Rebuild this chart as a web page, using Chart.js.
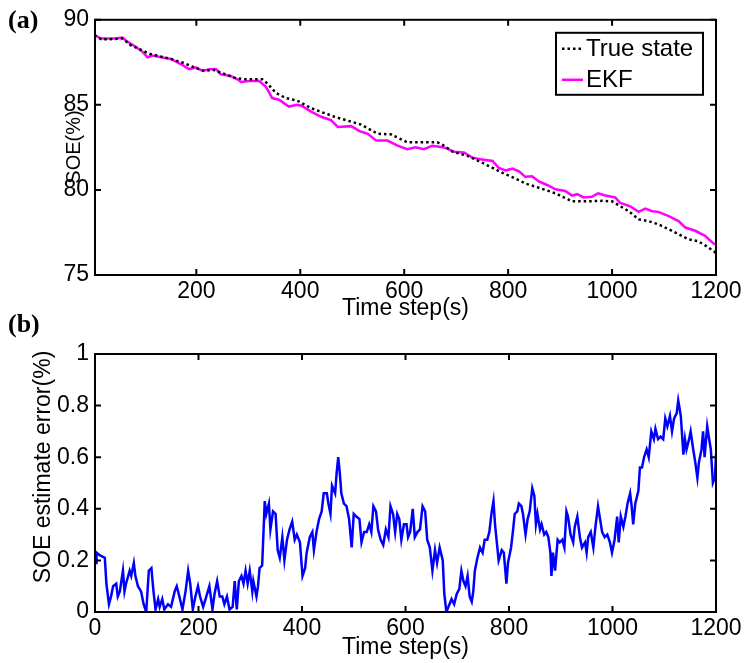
<!DOCTYPE html>
<html>
<head>
<meta charset="utf-8">
<script src="https://cdn.jsdelivr.net/npm/chart.js@4.4.1/dist/chart.umd.min.js"></script>
<style>
  body { margin: 0; background: #fff; }
  #wrap { position: relative; width: 748px; height: 663px; }
  #socChart { position: absolute; left: 0; top: 0; }
  #errChart { position: absolute; left: 0; top: 300px; }
</style>
</head>
<body>
<div id="wrap">
  <canvas id="socChart" width="748" height="330"></canvas>
  <canvas id="errChart" width="748" height="363"></canvas>
</div>
<script>
// (a) true state of energy
const trueTime = [4, 17, 30, 58, 74, 110, 151, 177, 196, 215, 234, 273, 292, 327, 337, 353, 372, 394, 421, 466, 517, 549,
  574, 606, 626, 664, 677, 693, 722, 750, 773, 792, 814, 833, 859, 891, 923, 949, 981, 1000, 1016, 1032, 1051,
  1070, 1089, 1109, 1128, 1147, 1166, 1185, 1200];
const trueSoe = [89.1, 88.85, 88.85, 88.9, 88.5, 88.0, 87.7, 87.45, 87.2, 87.0, 87.05, 86.6, 86.5, 86.5, 86.25, 85.7, 85.4, 85.25, 84.8, 84.3, 83.84, 83.3,
  83.27, 82.8, 82.8, 82.8, 82.6, 82.25, 82.0, 81.6, 81.25, 80.96, 80.67, 80.38, 80.13, 79.8, 79.33, 79.33, 79.36, 79.33, 79.04, 78.75, 78.27,
  78.17, 77.98, 77.69, 77.4, 77.1, 76.98, 76.63, 76.3];

// (a) EKF estimate
const ekfTime = [4, 17, 26, 42, 58, 68, 84, 97, 106, 116, 132, 151, 170, 186, 199, 212, 225, 238, 247, 266, 279, 286, 302, 321,
  334, 346, 359, 378, 394, 402, 421, 440, 459, 472, 498, 514, 530, 546, 568, 587, 606, 622, 638, 654, 677, 696, 715, 731,
  747, 770, 782, 795, 808, 821, 833, 846, 859, 875, 891, 910, 923, 933, 945, 961, 973, 987, 1006, 1016, 1035, 1051,
  1064, 1077, 1089, 1109, 1128, 1141, 1160, 1179, 1195, 1200];
const ekfSoe = [89.1, 88.9, 88.9, 88.9, 88.95, 88.7, 88.4, 88.1, 87.8, 87.9, 87.8, 87.7, 87.4, 87.1, 87.2, 87.0, 87.1, 87.1, 86.8, 86.7, 86.5, 86.35, 86.4, 86.4,
  86.06, 85.4, 85.3, 84.9, 85.0, 84.95, 84.6, 84.3, 84.1, 83.7, 83.75, 83.46, 83.3, 82.9, 82.9, 82.6, 82.4, 82.5, 82.4, 82.6, 82.5, 82.25, 82.2, 81.9,
  81.8, 81.7, 81.3, 81.15, 81.25, 81.1, 80.77, 80.8, 80.5, 80.29, 80.04, 79.94, 79.67, 79.75, 79.56, 79.6, 79.8, 79.67, 79.56, 79.23, 79.04, 78.71,
  78.9, 78.75, 78.71, 78.46, 78.17, 77.79, 77.6, 77.3, 76.86, 76.8];

// (b) estimate error
const errTime = [0, 2, 3, 9, 19, 22, 27, 31, 35, 41, 44, 48, 54, 57, 60, 67, 70, 75, 78, 83, 89, 94, 99, 104, 109, 113, 117, 122,
  125, 130, 134, 141, 147, 154, 158, 163, 169, 175, 180, 184, 189, 194, 199, 203, 209, 215, 221, 227, 231, 236, 241, 246,
  250, 255, 260, 266, 270, 274, 278, 283, 287, 291, 295, 299, 304, 306, 312, 315, 318, 323, 328, 331, 336, 339, 344, 349,
  353, 357, 362, 366, 371, 376, 381, 386, 390, 396, 401, 406, 409, 415, 420, 423, 428, 433, 438, 442, 448, 451, 455, 458,
  464, 467, 470, 473, 476, 481, 486, 491, 496, 500, 505, 511, 515, 520, 525, 530, 534, 538, 543, 547, 552, 557, 562, 567,
  571, 576, 580, 584, 588, 592, 597, 602, 605, 609, 614, 618, 623, 628, 633, 638, 642, 647, 652, 657, 661, 666, 672, 675,
  679, 685, 689, 694, 699, 704, 708, 712, 716, 720, 724, 728, 731, 734, 739, 744, 749, 753, 758, 762, 766, 770, 773, 776,
  780, 786, 790, 795, 798, 804, 808, 811, 816, 819, 824, 827, 832, 836, 840, 845, 849, 852, 855, 860, 863, 868, 872, 876,
  880, 882, 885, 889, 894, 898, 903, 907, 911, 914, 919, 924, 927, 932, 937, 941, 947, 950, 953, 958, 963, 967, 972, 976,
  980, 985, 990, 995, 999, 1004, 1009, 1012, 1016, 1021, 1025, 1029, 1034, 1037, 1040, 1044, 1050, 1053, 1057, 1061, 1066,
  1070, 1075, 1080, 1083, 1088, 1093, 1098, 1102, 1106, 1111, 1115, 1119, 1124, 1127, 1132, 1137, 1140, 1143, 1148, 1151,
  1156, 1160, 1164, 1167, 1172, 1175, 1178, 1183, 1186, 1190, 1194, 1198, 1200];
const errVal = [0.22, 0.19, 0.23, 0.22, 0.21, 0.11, 0.03, 0.06, 0.10, 0.11, 0.06, 0.08, 0.16, 0.08, 0.11, 0.16, 0.14, 0.19, 0.14, 0.10, 0.08, 0.03, 0, 0.16, 0.17, 0.08, 0.01, 0.05,
  0.02, 0.05, 0.01, 0.03, 0.02, 0.08, 0.10, 0.06, 0.01, 0.08, 0.16, 0.11, 0.01, 0.06, 0.10, 0.06, 0.02, 0.06, 0.10, 0.01, 0.07, 0.12, 0.06, 0.06,
  0.03, 0.06, 0.01, 0.02, 0.12, 0.01, 0.12, 0.14, 0.11, 0.16, 0.11, 0.16, 0.08, 0.12, 0.06, 0.10, 0.17, 0.18, 0.43, 0.38, 0.42, 0.32, 0.39, 0.38,
  0.24, 0.21, 0.29, 0.20, 0.28, 0.32, 0.35, 0.28, 0.30, 0.27, 0.14, 0.17, 0.23, 0.29, 0.31, 0.24, 0.31, 0.36, 0.39, 0.46, 0.46, 0.42, 0.38, 0.49,
  0.46, 0.54, 0.60, 0.54, 0.46, 0.42, 0.41, 0.36, 0.25, 0.38, 0.37, 0.36, 0.27, 0.31, 0.31, 0.34, 0.31, 0.41, 0.39, 0.32, 0.28, 0.26, 0.32, 0.29,
  0.41, 0.38, 0.31, 0.38, 0.36, 0.28, 0.34, 0.34, 0.29, 0.31, 0.40, 0.29, 0.31, 0.32, 0.41, 0.39, 0.28, 0.25, 0.16, 0.24, 0.19, 0.25, 0.20, 0.07,
  0.00, 0.03, 0.05, 0.03, 0.07, 0.09, 0.16, 0.12, 0.10, 0.14, 0.06, 0.04, 0.08, 0.16, 0.21, 0.25, 0.23, 0.28, 0.28, 0.31, 0.38, 0.43, 0.34, 0.28,
  0.20, 0.24, 0.23, 0.11, 0.19, 0.25, 0.32, 0.38, 0.39, 0.42, 0.41, 0.38, 0.30, 0.36, 0.39, 0.48, 0.45, 0.34, 0.38, 0.32, 0.34, 0.30, 0.31, 0.29,
  0.23, 0.14, 0.23, 0.16, 0.28, 0.27, 0.28, 0.25, 0.39, 0.37, 0.30, 0.27, 0.33, 0.37, 0.29, 0.25, 0.27, 0.23, 0.29, 0.31, 0.25, 0.33, 0.41, 0.36,
  0.31, 0.29, 0.30, 0.27, 0.23, 0.28, 0.37, 0.27, 0.37, 0.33, 0.37, 0.42, 0.46, 0.41, 0.34, 0.42, 0.47, 0.56, 0.56, 0.60, 0.63,
  0.60, 0.70, 0.67, 0.71, 0.67, 0.68, 0.67, 0.75, 0.72, 0.76, 0.70, 0.75, 0.77, 0.82, 0.76, 0.61, 0.67, 0.63, 0.67, 0.70,
  0.63, 0.58, 0.52, 0.58, 0.63, 0.70, 0.60, 0.72, 0.68, 0.63, 0.50, 0.52, 0.61];

const socTicks = [200, 400, 600, 800, 1000, 1200];
const errTicks = [0, 200, 400, 600, 800, 1000, 1200];

const FONT = 'Liberation Sans, Arial, Helvetica, sans-serif';

function zip(xs, ys) {
  return xs.map((x, i) => ({ x: x, y: ys[i] }));
}

// Matlab style box with inward ticks on all four sides
const matlabAxes = {
  id: 'matlabAxes',
  afterDatasetsDraw(chart) {
    const { ctx, chartArea: a, scales } = chart;
    const len = 6;
    ctx.save();
    ctx.strokeStyle = '#000';
    ctx.lineWidth = 2;
    ctx.beginPath();
    scales.x.ticks.forEach(t => {
      const px = scales.x.getPixelForValue(t.value);
      ctx.moveTo(px, a.bottom); ctx.lineTo(px, a.bottom - len);
      ctx.moveTo(px, a.top); ctx.lineTo(px, a.top + len);
    });
    scales.y.ticks.forEach(t => {
      const py = scales.y.getPixelForValue(t.value);
      ctx.moveTo(a.left, py); ctx.lineTo(a.left + len, py);
      ctx.moveTo(a.right, py); ctx.lineTo(a.right - len, py);
    });
    ctx.stroke();
    ctx.strokeRect(a.left, a.top, a.right - a.left, a.bottom - a.top);
    ctx.restore();
  }
};

// panel letter (a)/(b) and the rotated y axis title
const panelText = {
  id: 'panelText',
  afterDraw(chart, args, opts) {
    const ctx = chart.ctx;
    ctx.save();
    ctx.fillStyle = '#000';
    ctx.font = 'bold 26px "Liberation Serif", "Times New Roman", serif';
    ctx.textBaseline = 'middle';
    ctx.fillText(opts.panel, 8, opts.panelY);
    ctx.translate(opts.titleX, opts.titleY);
    ctx.rotate(-Math.PI / 2);
    ctx.font = opts.titleSize + 'px ' + FONT;
    ctx.textAlign = 'center';
    ctx.textBaseline = 'alphabetic';
    ctx.fillText(opts.title, 0, 0);
    ctx.restore();
  }
};

// boxed legend inside the top-right of the plot
const boxLegend = {
  id: 'boxLegend',
  afterDraw(chart, args, opts) {
    if (!opts.show) return;
    const { ctx, chartArea: a } = chart;
    const sets = chart.data.datasets;
    const w = 147, rowH = 31;
    const h = rowH * sets.length;
    const left = a.right - 13 - w, top = a.top + 13;
    ctx.save();
    ctx.fillStyle = '#fff';
    ctx.fillRect(left, top, w, h);
    ctx.strokeStyle = '#000';
    ctx.lineWidth = 2;
    ctx.strokeRect(left, top, w, h);
    ctx.font = '24px ' + FONT;
    ctx.textBaseline = 'middle';
    sets.forEach((ds, i) => {
      const cy = top + 16 + i * rowH;
      ctx.strokeStyle = ds.borderColor;
      ctx.lineWidth = ds.borderWidth;
      ctx.setLineDash(ds.borderDash || []);
      ctx.beginPath();
      ctx.moveTo(left + 6, cy);
      ctx.lineTo(left + 27, cy);
      ctx.stroke();
      ctx.setLineDash([]);
      ctx.fillStyle = '#000';
      ctx.fillText(ds.label, left + 30, cy + 1);
    });
    ctx.restore();
  }
};

function axisX(min, max, ticks, titlePadBottom, axisHeight) {
  return {
    type: 'linear', min: min, max: max,
    afterBuildTicks: s => { s.ticks = ticks.map(v => ({ value: v })); },
    afterFit: s => { s.height = axisHeight; },
    grid: { display: false, drawTicks: false },
    border: { display: false },
    ticks: { color: '#000', padding: 3, maxRotation: 0, autoSkip: false, font: { family: FONT, size: 23 },
      callback: v => String(v) },
    title: { display: true, text: 'Time step(s)', color: '#000', padding: { top: 0, bottom: titlePadBottom }, font: { family: FONT, size: 23 } }
  };
}

function axisY(min, max, step) {
  return {
    min: min, max: max,
    afterFit: s => { s.width = 95; },
    grid: { display: false, drawTicks: false },
    border: { display: false },
    ticks: { stepSize: step, color: '#000', padding: 6, font: { family: FONT, size: 23 },
      callback: v => String(Math.round(v * 10) / 10) }
  };
}

function initSocChart() {
  const ctx = document.getElementById('socChart').getContext('2d');
  new Chart(ctx, {
    type: 'line',
    data: {
      datasets: [{
        label: 'True state',
        data: zip(trueTime, trueSoe),
        borderColor: '#000000',
        borderWidth: 2.5,
        borderDash: [2.5, 3],
        pointRadius: 0
      }, {
        label: 'EKF',
        data: zip(ekfTime, ekfSoe),
        borderColor: '#ff00ff',
        borderWidth: 2.5,
        pointRadius: 0
      }]
    },
    options: {
      responsive: false,
      animation: false,
      layout: { padding: { top: 15, right: 32, bottom: 0, left: 0 } },
      scales: {
        x: axisX(5, 1200, socTicks, 8, 55),
        y: axisY(75, 90, 5)
      },
      plugins: {
        legend: { display: false },
        tooltip: { enabled: false },
        boxLegend: { show: true },
        panelText: { panel: '(a)', panelY: 21, title: 'SOE(%)', titleX: 80, titleY: 147, titleSize: 20 }
      }
    },
    plugins: [matlabAxes, boxLegend, panelText]
  });
}

function initErrChart() {
  const ctx = document.getElementById('errChart').getContext('2d');
  new Chart(ctx, {
    type: 'line',
    data: {
      datasets: [{
        label: 'SOE estimate error',
        data: zip(errTime, errVal),
        borderColor: '#0000ff',
        borderWidth: 2.5,
        pointRadius: 0
      }]
    },
    options: {
      responsive: false,
      animation: false,
      layout: { padding: { top: 54, right: 32, bottom: 0, left: 0 } },
      scales: {
        x: axisX(0, 1200, errTicks, 2, 51),
        y: axisY(0, 1, 0.2)
      },
      plugins: {
        legend: { display: false },
        tooltip: { enabled: false },
        boxLegend: { show: false },
        panelText: { panel: '(b)', panelY: 25, title: 'SOE estimate error(%)', titleX: 50, titleY: 167, titleSize: 23 }
      }
    },
    plugins: [matlabAxes, boxLegend, panelText]
  });
}

window.onload = function() {
  initSocChart();
  initErrChart();
};
</script>
</body>
</html>
